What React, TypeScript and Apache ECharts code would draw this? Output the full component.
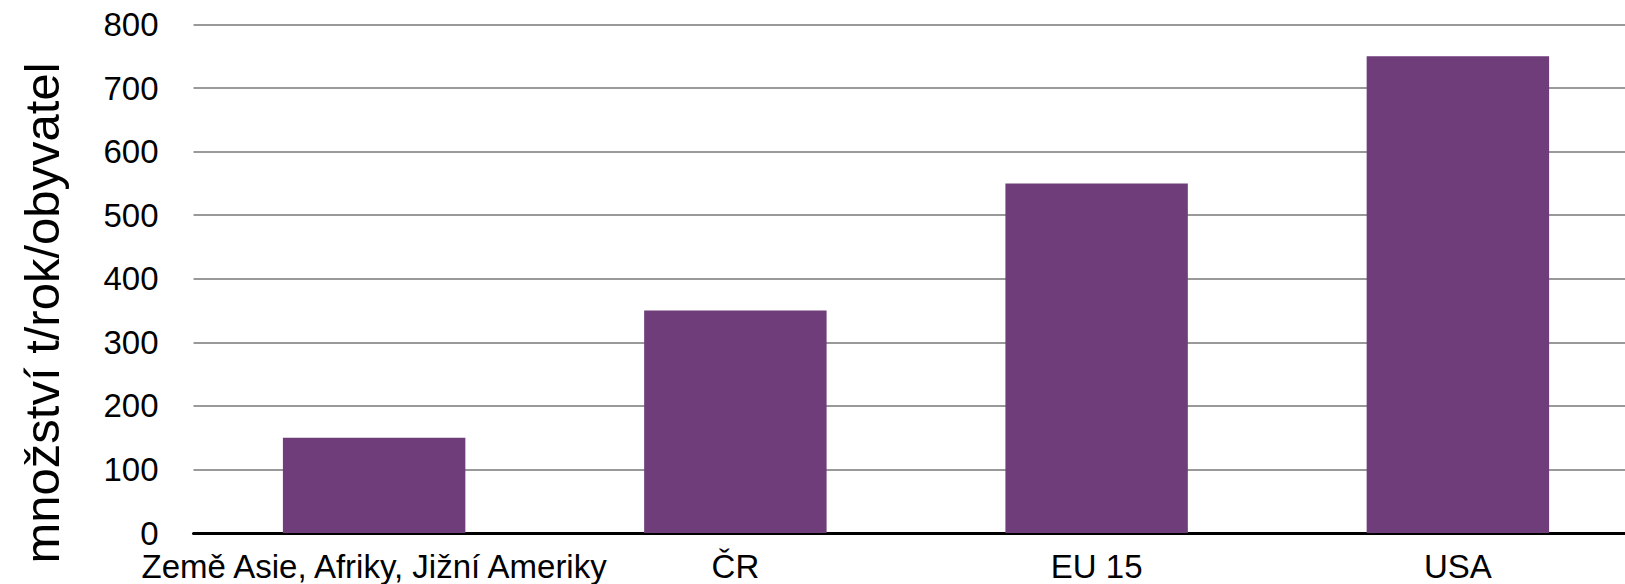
import React, { useEffect, useRef } from "react";
import * as echarts from "echarts";

const categories = ["Země Asie, Afriky, Jižní Ameriky", "ČR", "EU 15", "USA"];
const values = [150, 350, 550, 750];
const yAxisName = "množství t/rok/obyvatel";
const yMin = 0;
const yMax = 800;
const yInterval = 100;

const FONT = "'Liberation Sans', Arial, Helvetica, sans-serif";

export default function App() {
  const ref = useRef<HTMLDivElement>(null);
  useEffect(() => {
    document.body.style.margin = "0";
    if (!ref.current) return;
    const chart = echarts.init(ref.current, undefined, { renderer: "svg" });
    chart.setOption({
      animation: false,
      backgroundColor: "#ffffff",
      textStyle: { fontFamily: FONT },
      grid: {
        left: 193.5,
        width: 1445,
        top: 24.5,
        bottom: 51,
        containLabel: false,
        outerBoundsMode: "none",
      },
      xAxis: {
        type: "category",
        data: categories,
        axisLine: { show: true, lineStyle: { color: "#000000", width: 3 } },
        axisTick: { show: false },
        axisLabel: {
          color: "#000000",
          fontSize: 33,
          lineHeight: 26,
          fontFamily: FONT,
          margin: 20,
          interval: 0,
        },
        splitLine: { show: false },
      },
      yAxis: {
        type: "value",
        min: yMin,
        max: yMax,
        interval: yInterval,
        axisLine: { show: false },
        axisTick: { show: false },
        axisLabel: {
          color: "#000000",
          fontSize: 33,
          lineHeight: 26,
          fontFamily: FONT,
          margin: 35,
        },
        splitLine: { show: true, lineStyle: { color: "#999999", width: 2 } },
      },
      graphic: [
        {
          type: "text",
          x: 42,
          y: 313,
          rotation: Math.PI / 2,
          style: {
            text: yAxisName,
            fontSize: 49,
            fontFamily: FONT,
            fill: "#000000",
            align: "center",
            verticalAlign: "middle",
          },
        },
      ],
      series: [
        {
          type: "bar",
          data: values,
          barWidth: "50.5%",
          itemStyle: { color: "#6e3d7a" },
        },
      ],
    });
    return () => chart.dispose();
  }, []);
  return (
    <div
      ref={ref}
      style={{ position: "absolute", left: 0, top: 0, width: 1625, height: 584 }}
    />
  );
}
